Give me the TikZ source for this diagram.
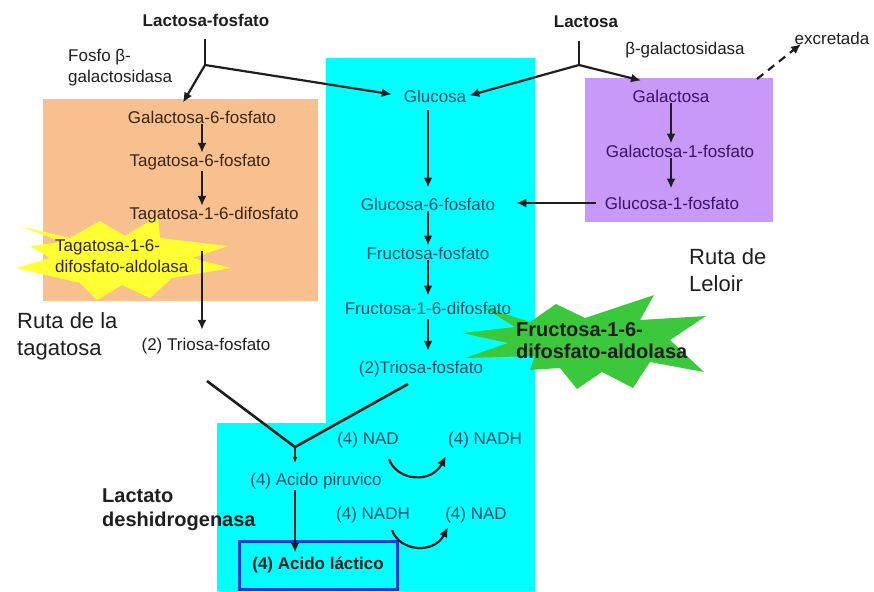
\documentclass[tikz,border=0pt]{standalone}
\usepackage{fontspec}
\setmainfont{Liberation Sans}
\usepackage{tikz}
\usetikzlibrary{arrows.meta,positioning,shapes,calc}
\definecolor{glyco}{HTML}{00FFFF}
\definecolor{tagbox}{HTML}{F9C08F}
\definecolor{leloirbox}{HTML}{C999F9}
\definecolor{starY}{HTML}{FFFF33}
\definecolor{starG}{HTML}{3CC83C}
\definecolor{lactframe}{HTML}{1C3CE0}
\definecolor{glytext}{HTML}{1F4F66}
\definecolor{leltext}{HTML}{3B1466}
\definecolor{tagtext}{HTML}{3A2614}
\definecolor{ink}{HTML}{1E1E1E}

\begin{document}
\begin{tikzpicture}[x=1pt,y=-1pt,
  met/.style={font=\fontsize{17}{21}\selectfont,inner sep=1pt,text=ink},
  bmet/.style={font=\fontsize{17}{21}\selectfont\bfseries,inner sep=1pt,text=ink},
  enz/.style={font=\fontsize{20}{24}\selectfont\bfseries,inner sep=0pt,align=left,anchor=west,text=ink},
  ruta/.style={font=\fontsize{22}{27}\selectfont,inner sep=0pt,align=left,anchor=west,text=ink},
  arr/.style={-{Latex[length=10pt,width=9pt]},line width=2.2pt,draw=ink},
  ln/.style={line width=2.6pt,draw=ink}]
\useasboundingbox (0,0) rectangle (874,591);

\fill[glyco] (326,58) -- (535,58) -- (535,591) -- (217,591) -- (217,423) -- (326,423) -- cycle;
\fill[tagbox] (43,99) rectangle (318,301);
\fill[leloirbox] (585,78) rectangle (773,222);

\fill[starY] (20,226) -- (70,238) -- (100,221) -- (125,236) -- (158,216) -- (160,238) -- (228,246)
  -- (192,258) -- (231,268) -- (172,278) -- (150,298) -- (122,285) -- (97,300) -- (80,283)
  -- (16,268) -- (50,258) -- (30,246) -- (62,242) -- cycle;
\fill[starG] (483,307) -- (530,322) -- (556,304) -- (585,318) -- (654,295) -- (640,320) -- (706,316)
  -- (670,340) -- (704,372) -- (650,362) -- (633,388) -- (602,372) -- (577,389) -- (560,368)
  -- (530,370) -- (535,356) -- (465,358) -- (508,343) -- (462,333) -- (515,327) -- cycle;

\node[bmet] (lacP) at (206,20) {Lactosa-fosfato};
\node[met,align=left,anchor=west] (fosfo) at (67,68) {Fosfo β-\\galactosidasa};
\coordinate (lacPfork) at (205,65);
\node[bmet] (lac) at (586,22) {Lactosa};
\coordinate (lacfork) at (579,65);
\node[met] (bgal) at (685,50) {β-galactosidasa};
\node[met] (excr) at (832,38) {excretada};
\coordinate (exc0) at (757,79);
\coordinate (exc1) at (801,44);

\node[met,text=glytext] (glc) at (435,96) {Glucosa};
\node[met,text=glytext] (glc6p) at (428,204) {Glucosa-6-fosfato};
\node[met,text=glytext] (fru6p) at (428,253) {Fructosa-fosfato};
\node[met,text=glytext] (fru16) at (428,308) {Fructosa-1-6-difosfato};
\node[met,text=glytext] (tri2b) at (421,369) {(2)Triosa-fosfato};
\node[enz] (fruald) at (516,341) {Fructosa-1-6-\\[-2pt]difosfato-aldolasa};

\node[met,text=leltext] (gal) at (671,96) {Galactosa};
\node[met,text=leltext] (gal1p) at (680,151) {Galactosa-1-fosfato};
\node[met,text=leltext] (glc1p) at (672,203) {Glucosa-1-fosfato};
\node[ruta] (leloir) at (689,270) {Ruta de\\Leloir};

\node[met,text=tagtext] (gal6p) at (202,117) {Galactosa-6-fosfato};
\node[met,text=tagtext] (tag6p) at (200,162) {Tagatosa-6-fosfato};
\node[met,text=tagtext] (tag16) at (214,215) {Tagatosa-1-6-difosfato};
\node[met,text=tagtext,align=left,anchor=west] (tagald) at (54,256) {Tagatosa-1-6-\\difosfato-aldolasa};
\node[ruta] (rutatag) at (17,336) {Ruta de la\\tagatosa};
\node[met] (tri2a) at (206,346) {(2) Triosa-fosfato};

\coordinate (vleft) at (207,381);
\coordinate (vjoin) at (295,447);
\coordinate (vright) at (408,384);
\node[met,text=glytext] (pir) at (316,481) {(4) Acido piruvico};
\node[met,text=glytext] (nad1) at (368,440) {(4) NAD};
\node[met,text=glytext] (nadh1) at (485,440) {(4) NADH};
\node[met,text=glytext] (nadh2) at (373,515) {(4) NADH};
\node[met,text=glytext] (nad2) at (476,515) {(4) NAD};
\node[enz] (ldh) at (102,510) {Lactato\\deshidrogenasa};
\node[bmet,draw=lactframe,line width=3pt,minimum width=158pt,minimum height=48pt] (lact) at (318,565) {(4) Acido láctico};

\draw[ln,shorten <=12pt] (lacP.south -| lacPfork) -- (lacPfork);
\draw[arr] (lacPfork) -- ($(gal6p.north)+(-19,-7)$);
\draw[arr,shorten >=11pt] (lacPfork) -- (glc.west);
\draw[ln,shorten <=12pt] (lac.south -| lacfork) -- (lacfork);
\draw[arr,shorten >=2pt] (lacfork) -- (glc.east);
\draw[arr] (lacfork) -- ($(gal.north)+(-30,-8)$);
\draw[arr,dash pattern=on 8pt off 6pt] (exc0) -- (exc1);

\draw[arr] (gal.south) -- (gal.south |- gal1p.north);
\draw[arr,shorten >=7pt] (gal.south |- gal1p.south) -- (gal.south |- glc1p.north);
\draw[arr,shorten <=8pt,shorten >=20pt] (glc1p.west) -- (glc1p.west -| glc6p.east);

\draw[arr,shorten <=7pt,shorten >=9pt] (glc6p.north |- glc.south) -- (glc6p.north);
\draw[arr] (glc6p.south) -- (fru6p.north);
\draw[arr,shorten >=5pt] (fru6p.south) -- (fru16.north);
\draw[arr,shorten <=4pt,shorten >=9pt] (fru16.south) -- (fru16.south |- tri2b.north);

\draw[arr] (gal6p.south) -- (gal6p.south |- tag6p.north);
\draw[arr] (gal6p.south |- tag6p.south) -- (gal6p.south |- tag16.north);
\draw[arr,shorten <=27pt,shorten >=7pt] (gal6p.south |- tag16.south) -- (gal6p.south |- tri2a.north);

\draw[ln] (vleft) -- (vjoin) -- (vright);
\draw[arr,-{Latex[length=6pt,width=5pt]},line width=1.6pt,shorten >=9pt] (vjoin) -- (vjoin |- pir.north);
\draw[arr] (vjoin |- pir.south) -- ($(vjoin |- lact.north)+(0,13)$);

\draw[arr] ($(nad1.south)+(21,10)$) .. controls (397,481) and (431,484) .. ($(nadh1.south)+(-39,7)$);
\draw[arr] ($(nadh2.south)+(19,6)$) .. controls (400,552) and (434,554) .. ($(nad2.south)+(-28,3)$);
\end{tikzpicture}
\end{document}
